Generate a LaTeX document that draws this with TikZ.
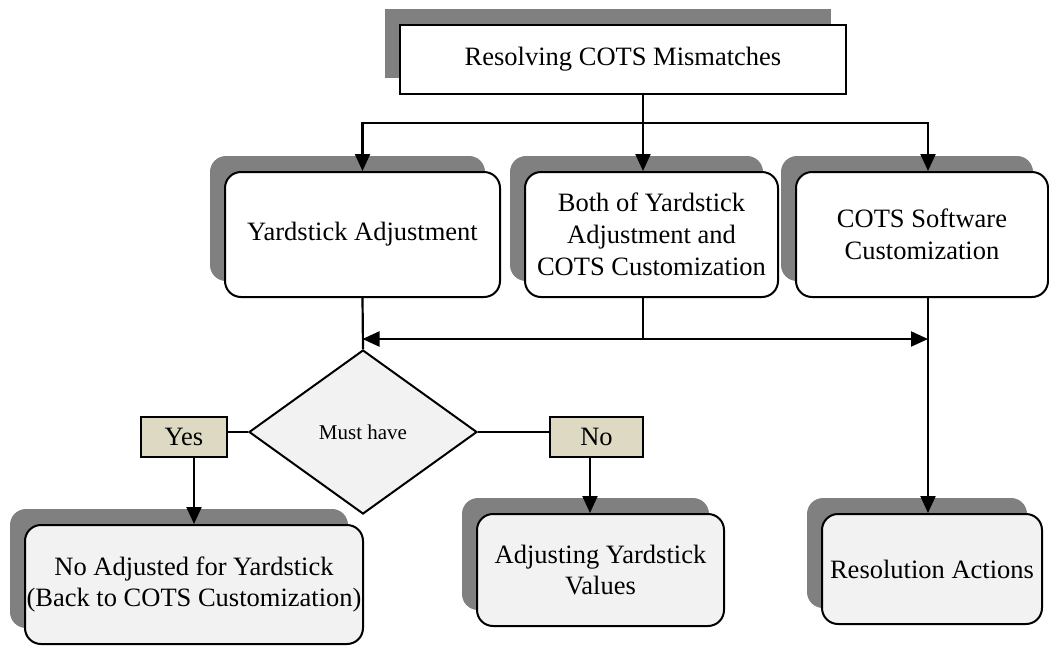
\documentclass[tikz,border=0pt]{standalone}
\usepackage{fontspec}
\setmainfont{Liberation Serif}
\usetikzlibrary{shapes.geometric,shadows,arrows.meta}
\definecolor{shd}{HTML}{808080}
\definecolor{lbl}{HTML}{DDD9C3}
\definecolor{lgr}{HTML}{F2F2F2}
\begin{document}
\begin{tikzpicture}[x=1pt,y=-1pt,
  base/.style={draw,line width=2pt,align=center,inner sep=0pt,font=\fontsize{26.5}{31.8}\selectfont},
  shdw/.style={drop shadow={shadow xshift=-15pt,shadow yshift=16pt,fill=shd,opacity=1}},
  sqbox/.style={base,rectangle,fill=white,shdw},
  rbox/.style={base,rectangle,rounded corners=16pt,fill=white,shdw},
  gbox/.style={rbox,fill=lgr},
  tagbox/.style={base,rectangle,fill=lbl},
  dia/.style={base,diamond,fill=lgr,font=\fontsize{21}{25}\selectfont},
  ln/.style={line width=2.2pt},
  arr/.style={line width=2.2pt,-{Triangle[length=17pt,width=15pt]}}]
\useasboundingbox (0,0) rectangle (1049,646);

\node[sqbox,minimum width=446pt,minimum height=69pt] (top) at (623,59.5) {Resolving COTS Mismatches};
\node[rbox,minimum width=275pt,minimum height=125pt] (ya) at (362.5,234.5) {Yardstick Adjustment};
\node[rbox,minimum width=253pt,minimum height=125pt] (both) at (651.5,234.5) {Both of Yardstick\\Adjustment and\\COTS Customization};
\node[rbox,minimum width=252pt,minimum height=125pt] (cots) at (922,234.5) {COTS Software\\Customization};
\node[dia,minimum width=228pt,minimum height=164pt] (dm) at (363,432) {Must have};
\node[tagbox,minimum width=86pt,minimum height=40pt] (yes) at (184,437) {Yes};
\node[tagbox,minimum width=93pt,minimum height=40pt] (no) at (596.5,437) {No};
\node[gbox,minimum width=338pt,minimum height=119pt] (bl) at (194,584.5) {No Adjusted for Yardstick\\(Back to COTS Customization)};
\node[gbox,minimum width=247pt,minimum height=112pt] (adj) at (600.5,570) {Adjusting Yardstick\\Values};
\node[gbox,minimum width=220pt,minimum height=110pt] (res) at (932,569) {Resolution Actions};

\coordinate (j0) at (643,123);
\coordinate (j1) at (928,123);
\coordinate (h) at (643,339);
\coordinate (k) at (590,0);

\draw[ln] (top.south -| j0) -- (j0);
\draw[arr] (j0) -| (ya.north);
\draw[arr] (j0) -- (both.north -| j0);
\draw[arr] (j0) -- (j1) -- (cots.north -| j1);
\draw[ln] (ya.south) -- (dm.north);
\draw[ln] (both.south -| j0) -- (h);
\draw[line width=2.2pt,{Triangle[length=17pt,width=15pt]}-{Triangle[length=17pt,width=15pt]}] (ya.south |- h) -- (j1 |- h);
\draw[arr] (cots.south -| j1) -- (res.north -| j1);
\draw[ln] (dm.west -| yes.east) -- (dm.west);
\draw[ln] (dm.east) -- (dm.east -| no.west);
\draw[arr] (yes.south -| bl.north) -- (bl.north);
\draw[arr] (no.south -| k) -- (adj.north -| k);
\end{tikzpicture}
\end{document}
